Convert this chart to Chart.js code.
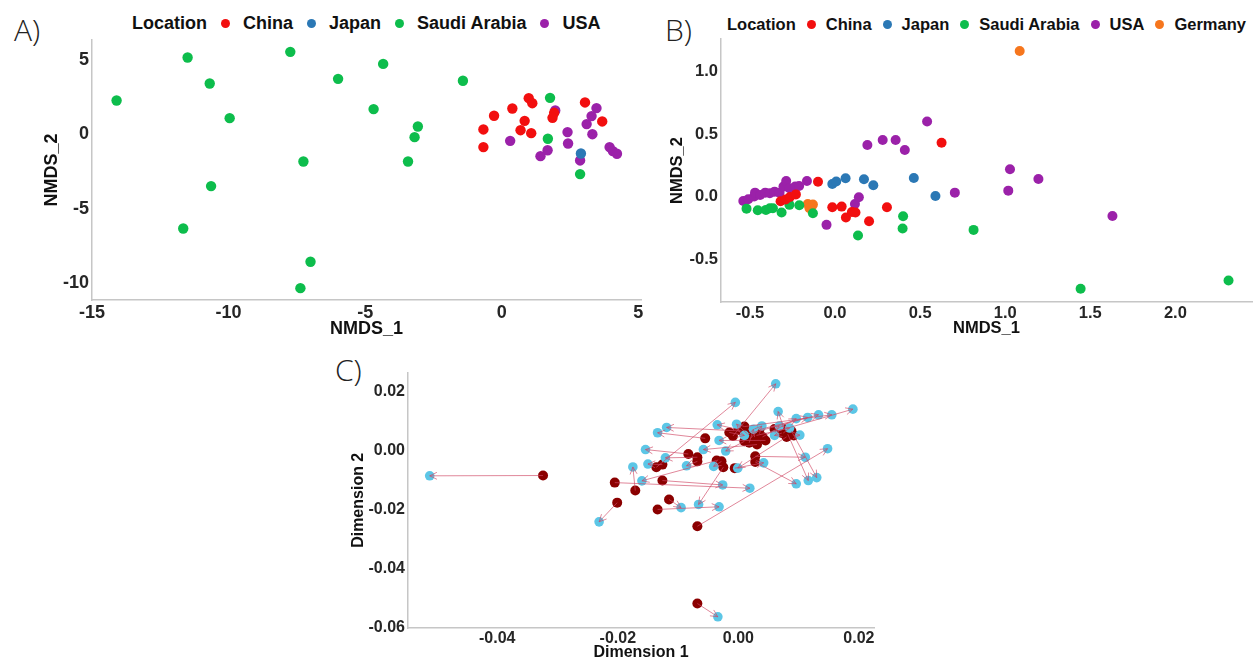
<!DOCTYPE html>
<html>
<head>
<meta charset="utf-8">
<script src="https://cdn.jsdelivr.net/npm/chart.js@4.4.1/dist/chart.umd.min.js"></script>
<style>
  body { margin: 0; background: #fff; width: 1257px; height: 659px; position: relative; overflow: hidden; font-family: "Liberation Sans", Arial, sans-serif; }
  .panel { position: absolute; overflow: hidden; }
  .tag { position: absolute; font-family: "Open Sans", sans-serif; font-weight: 300; font-size: 30px; line-height: 30px; color: #222; }
  .legend { position: absolute; display: flex; align-items: center; font-weight: bold; color: #111; white-space: nowrap; line-height: 20px; }
  .legend .dot { width: 9px; height: 9px; border-radius: 50%; display: inline-block; }
</style>
</head>
<body>
<div class="tag" style="left:14px;top:15px">A)</div>
<div class="tag" style="left:665px;top:15px">B)</div>
<div class="tag" style="left:335px;top:355px">C)</div>
<div class="legend" id="legA" style="left:132px;top:13px;font-size:18px"></div>
<div class="legend" id="legB" style="left:727px;top:14px;font-size:16.5px"></div>
<div class="panel" style="left:0;top:0;width:660px;height:337px"><canvas id="chartA" width="660" height="340"></canvas></div>
<div class="panel" style="left:660px;top:0;width:597px;height:337px"><canvas id="chartB" width="597" height="340"></canvas></div>
<div class="panel" style="left:330px;top:360px;width:560px;height:299px"><canvas id="chartC" width="560" height="305"></canvas></div>
<script>
// ---- data: panel A (NMDS, 4 locations) ----
const chinaA = [[-0.67,0.34],[-0.67,-0.85],[-0.28,1.26],[0.39,1.75],[0.99,2.45],[1.12,2.11],[0.84,0.92],[0.69,0.29],[1.08,0.09],[1.92,1.46],[1.86,1.12],[3.05,2.16],[3.68,0.88]];
const japanA = [[2.9,-1.28]];
const saudiA = [[-14.1,2.29],[-11.5,5.19],[-10.69,3.44],[-9.96,1.1],[-10.64,-3.48],[-11.66,-6.34],[-7.74,5.57],[-5.99,3.75],[-7.26,-1.82],[-7.0,-8.58],[-7.37,-10.36],[-4.34,4.76],[-4.69,1.71],[-3.07,0.54],[-3.19,-0.18],[-3.43,-1.82],[-1.42,3.62],[1.77,2.47],[1.69,-0.29],[2.87,-2.67]];
const usaA = [[0.31,-0.43],[1.42,-1.46],[1.68,-1.06],[1.96,1.62],[2.41,0.16],[2.43,-0.61],[3.11,0.7],[3.29,1.24],[3.47,1.78],[3.32,0.02],[2.87,-1.75],[3.95,-0.85],[4.07,-1.12],[4.22,-1.3]];

// ---- data: panel B (NMDS, 5 locations) ----
const chinaB = [[-0.1,0.12],[-0.32,-0.034],[-0.29,-0.02],[-0.265,0.0],[-0.23,0.02],[-0.016,-0.082],[0.039,-0.077],[0.064,-0.164],[0.099,-0.12],[0.12,-0.124],[0.2,-0.193],[0.305,-0.082],[0.626,0.431]];
const japanB = [[-0.016,0.103],[0.007,0.122],[0.062,0.148],[0.17,0.14],[0.225,0.093],[0.463,0.151],[0.59,0.008]];
const saudiB = [[-0.52,-0.093],[-0.454,-0.106],[-0.406,-0.103],[-0.383,-0.09],[-0.365,-0.09],[-0.314,-0.124],[-0.268,-0.063],[-0.21,-0.066],[-0.13,-0.13],[0.135,-0.307],[0.4,-0.153],[0.397,-0.251],[0.814,-0.262],[1.443,-0.73],[2.312,-0.664]];
const usaB = [[-0.539,-0.032],[-0.51,-0.019],[-0.475,0.003],[-0.47,0.034],[-0.44,0.016],[-0.41,0.034],[-0.383,0.029],[-0.355,0.042],[-0.326,0.034],[-0.303,0.082],[-0.287,0.127],[-0.268,0.069],[-0.234,0.082],[-0.211,0.087],[-0.165,0.127],[-0.05,-0.222],[0.117,-0.056],[0.14,-0.003],[0.19,0.413],[0.28,0.452],[0.356,0.452],[0.41,0.373],[0.541,0.6],[0.704,0.034],[1.028,0.22],[1.018,0.05],[1.195,0.143],[1.63,-0.151]];
const germanyB = [[1.085,1.159],[-0.16,-0.056],[-0.14,-0.077],[-0.13,-0.061],[-0.15,-0.09]];

// ---- data: panel C (start -> end positions) ----
const startPts = [[-0.0324,-0.0086],[-0.0068,-0.052],[-0.0201,-0.0178],[-0.0171,-0.0137],[-0.0205,-0.011],[-0.0134,-0.0201],[-0.0115,-0.0167],[-0.0126,-0.0103],[-0.0068,-0.0258],[-0.0136,-0.0058],[-0.0126,-0.0049],[-0.0083,-0.0013],[-0.0068,-0.0024],[-0.0068,-0.0038],[-0.0055,0.004],[-0.0036,-0.0035],[-0.0025,-0.0058],[-0.0028,-0.0038],[-0.0006,-0.0061],[0.0028,-0.0021],[0.0028,-0.004],[-0.0009,0.0048],[0.0005,0.0065],[0.0031,0.0019],[0.0045,0.0033],[0.0065,0.0065],[0.0082,0.0054],[0.0088,0.0065],[0.0076,0.0071],[0.001,0.008],[0.0025,0.006],[0.0035,0.007],[0.004,0.0045],[0.0,0.007],[0.0015,0.0055],[0.002,0.004],[0.006,0.0072],[0.0092,0.005],[0.008,0.0045],[0.0018,0.0025],[0.001,0.003],[-0.0015,0.006],[0.0072,0.0058],[0.003,0.005]];
const endPts = [[-0.0512,-0.0087],[-0.0034,-0.0565],[-0.0231,-0.0243],[-0.0175,-0.0057],[0.0019,-0.0129],[-0.0032,-0.0192],[-0.0095,-0.0195],[-0.0026,-0.0118],[0.0148,0.0005],[-0.0005,0.0162],[-0.015,-0.0047],[-0.0154,0.0002],[-0.0121,-0.0026],[-0.0086,-0.0053],[-0.0134,0.0059],[-0.016,-0.0104],[-0.0066,-0.0184],[-0.0041,-0.0055],[0.0042,-0.0043],[0.0111,-0.0024],[0.0096,-0.0114],[0.0062,0.0225],[-0.0119,0.0077],[-0.0058,0.0002],[-0.0032,0.0033],[0.019,0.0139],[0.0116,-0.0103],[0.013,-0.0093],[0.0066,0.0131],[0.0155,0.012],[0.0133,0.012],[0.0115,0.0111],[0.0096,0.0107],[-0.0035,0.0086],[-0.0003,0.0088],[0.0039,0.0082],[0.0068,0.0082],[0.0102,0.0051],[-0.0001,-0.0061],[0.0025,0.0071],[-0.0021,-0.0003],[0.001,0.005],[0.006,0.005],[0.0085,0.0075]];

// ---- tick values ----
const ticksAx = [-15, -10, -5, 0, 5];
const ticksAy = [5, 0, -5, -10];
const ticksBx = [-0.5, 0, 0.5, 1, 1.5, 2];
const ticksBy = [1, 0.5, 0, -0.5];
const ticksCx = [-0.04, -0.02, 0, 0.02];
const ticksCy = [0.02, 0, -0.02, -0.04, -0.06];

const colors = { "China": "#f20f0f", "Japan": "#2b78b5", "Saudi Arabia": "#0dbd4c", "USA": "#9b21a9", "Germany": "#f6761d" };

const toPts = arr => arr.map(p => ({ x: p[0], y: p[1] }));

function axis(o) {
  return {
    type: "linear",
    min: o.min,
    max: o.max,
    grid: { display: false, drawTicks: false },
    border: { display: true, color: "#c6c6c6", width: 1.5 },
    ticks: {
      padding: o.pad,
      color: "#262626",
      font: { family: "Liberation Sans", size: o.size, weight: "bold" },
      callback: v => Number(v).toFixed(o.dec)
    },
    afterBuildTicks: s => { s.ticks = o.ticks.map(v => ({ value: v })); },
    afterFit: s => { if (o.w) s.width = o.w; if (o.h) s.height = o.h; },
    title: {
      display: true,
      text: o.title,
      color: "#111",
      font: { family: "Liberation Sans", size: o.size, weight: "bold" },
      padding: o.tpad
    }
  };
}

function seriesSets(groups, radius) {
  return groups.map(g => ({
    label: g[0],
    data: toPts(g[1]),
    backgroundColor: colors[g[0]],
    borderWidth: 0,
    pointRadius: radius,
    pointHoverRadius: radius
  }));
}

const baseOpts = {
  responsive: false,
  animation: false,
  devicePixelRatio: 1,
  plugins: { legend: { display: false }, tooltip: { enabled: false } },
  events: []
};

function legend(id, names) {
  const el = document.getElementById(id);
  const gapA = id === "legA" ? 14 : 11, gapB = id === "legA" ? 13 : 10;
  let html = `<span style="margin-right:${gapA}px">Location</span>`;
  names.forEach((n, i) => {
    html += `<span class="dot" style="background:${colors[n]};margin-right:${gapB}px"></span>`;
    html += `<span style="margin-right:${i < names.length - 1 ? gapA : 0}px">${n}</span>`;
  });
  el.innerHTML = html;
}
legend("legA", ["China", "Japan", "Saudi Arabia", "USA"]);
legend("legB", ["China", "Japan", "Saudi Arabia", "USA", "Germany"]);

// Panel A
new Chart(document.getElementById("chartA"), {
  type: "scatter",
  data: { datasets: seriesSets([["China", chinaA], ["Japan", japanA], ["Saudi Arabia", saudiA], ["USA", usaA]], 5.2) },
  options: Object.assign({}, baseOpts, {
    layout: { padding: { left: 0, top: 40, right: 19, bottom: 0 } },
    scales: {
      x: axis({ min: -15, max: 5.1, ticks: ticksAx, dec: 0, size: 18, pad: 2, h: 40, title: "NMDS_1", tpad: { top: 0, bottom: 0.5 } }),
      y: axis({ min: -11.16, max: 6.37, ticks: ticksAy, dec: 0, size: 18, pad: 3, w: 92, title: "NMDS_2", tpad: { top: 41, bottom: 0 } })
    }
  })
});

// Panel B
new Chart(document.getElementById("chartB"), {
  type: "scatter",
  data: { datasets: seriesSets([["China", chinaB], ["Japan", japanB], ["Saudi Arabia", saudiB], ["USA", usaB], ["Germany", germanyB]], 5) },
  options: Object.assign({}, baseOpts, {
    layout: { padding: { left: 0, top: 39, right: 1, bottom: 0 } },
    scales: {
      x: axis({ min: -0.67, max: 2.45, ticks: ticksBx, dec: 1, size: 16.5, pad: 2, h: 38, title: "NMDS_1", tpad: { top: 0, bottom: 1.5 } }),
      y: axis({ min: -0.835, max: 1.255, ticks: ticksBy, dec: 1, size: 16.5, pad: 3, w: 61, title: "NMDS_2", tpad: { top: 7.5, bottom: 0 } })
    }
  })
});

// Panel C arrows: start -> end through the chart scales
const arrowPlugin = {
  id: "arrows",
  afterDatasetsDraw(chart) {
    const { ctx, scales: { x, y } } = chart;
    ctx.save();
    ctx.strokeStyle = "rgba(208,70,100,0.65)";
    ctx.lineWidth = 1;
    startPts.forEach((s, i) => {
      const e = endPts[i];
      const x0 = x.getPixelForValue(s[0]), y0 = y.getPixelForValue(s[1]);
      const x1 = x.getPixelForValue(e[0]), y1 = y.getPixelForValue(e[1]);
      const a = Math.atan2(y1 - y0, x1 - x0);
      const L = 8;
      ctx.beginPath();
      ctx.moveTo(x0, y0);
      ctx.lineTo(x1, y1);
      ctx.moveTo(x1 - L * Math.cos(a - 0.45), y1 - L * Math.sin(a - 0.45));
      ctx.lineTo(x1, y1);
      ctx.lineTo(x1 - L * Math.cos(a + 0.45), y1 - L * Math.sin(a + 0.45));
      ctx.stroke();
    });
    ctx.restore();
  }
};

new Chart(document.getElementById("chartC"), {
  type: "scatter",
  data: {
    datasets: [
      { label: "end", data: toPts(endPts), backgroundColor: "#5cc6e6", borderWidth: 0, pointRadius: 4.8, pointHoverRadius: 4.8 },
      { label: "start", data: toPts(startPts), backgroundColor: "#8b0000", borderWidth: 0, pointRadius: 5, pointHoverRadius: 5 }
    ]
  },
  options: Object.assign({}, baseOpts, {
    layout: { padding: { left: 0, top: 12, right: 16, bottom: 0 } },
    scales: {
      x: axis({ min: -0.0548, max: 0.0225, ticks: ticksCx, dec: 2, size: 16, pad: 1, h: 37, title: "Dimension 1", tpad: { top: 0, bottom: 2.9 } }),
      y: axis({ min: -0.0603, max: 0.0263, ticks: ticksCy, dec: 2, size: 16, pad: 3, w: 78, title: "Dimension 2", tpad: { top: 19.4, bottom: 0 } })
    }
  }),
  plugins: [arrowPlugin]
});
</script>
</body>
</html>
